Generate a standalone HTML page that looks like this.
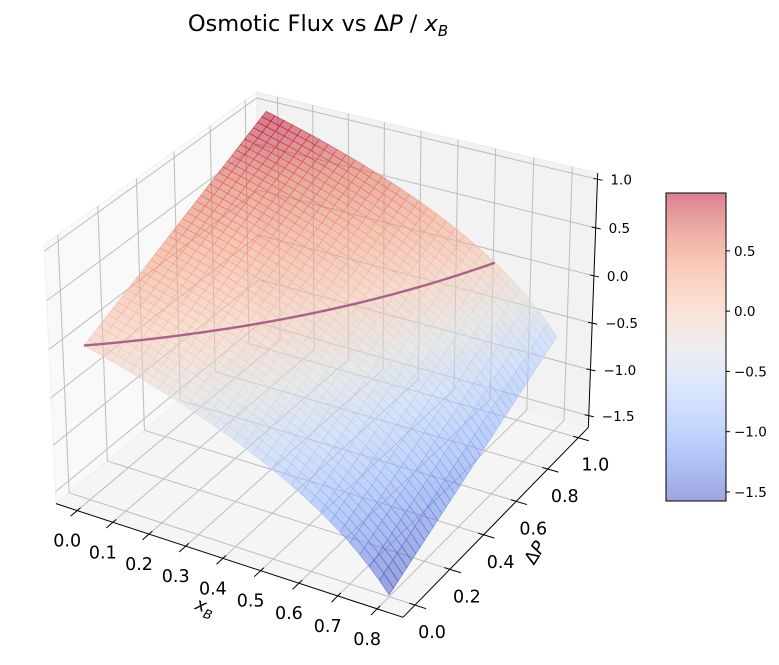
<!DOCTYPE html>
<html><head><meta charset="utf-8">
<style>
html,body{margin:0;padding:0;background:#fff;}
svg{display:block;font-family:"DejaVu Sans","Liberation Sans",sans-serif;}
</style></head>
<body>
<svg id="chart" width="779" height="665" viewBox="0 0 779 665" xmlns="http://www.w3.org/2000/svg">
<text x="318" y="31" text-anchor="middle" font-size="22.5" fill="#000">Osmotic Flux vs Δ<tspan font-style="italic">P</tspan> / <tspan font-style="italic">x</tspan><tspan font-style="italic" font-size="15" dy="5">B</tspan></text>
</svg>
<script>
// ---- data ----
const xValues = [0,0.025,0.05,0.075,0.1,0.125,0.15,0.175,0.2,0.225,0.25,0.275,0.3,0.325,0.35,0.375,0.4,0.425,0.45,0.475,0.5,0.525,0.55,0.575,0.6,0.625,0.65,0.675,0.7,0.725,0.75,0.775,0.8];
const osmoticValues = [0,0.0253,0.0513,0.0780,0.1054,0.1335,0.1625,0.1924,0.2231,0.2549,0.2877,0.3216,0.3567,0.3930,0.4308,0.4700,0.5108,0.5534,0.5978,0.6444,0.6931,0.7444,0.7985,0.8557,0.9163,0.9808,1.0498,1.1239,1.2040,1.2910,1.3863,1.4917,1.6094];
const pValues = [0,0.025,0.05,0.075,0.1,0.125,0.15,0.175,0.2,0.225,0.25,0.275,0.3,0.325,0.35,0.375,0.4,0.425,0.45,0.475,0.5,0.525,0.55,0.575,0.6,0.625,0.65,0.675,0.7,0.725,0.75,0.775,0.8,0.825,0.85,0.875,0.9,0.925,0.95,0.975,1];
const xTicks = [0,0.1,0.2,0.3,0.4,0.5,0.6,0.7,0.8];
const xTickLabels = ["0.0","0.1","0.2","0.3","0.4","0.5","0.6","0.7","0.8"];
const pTicks = [0,0.2,0.4,0.6,0.8,1.0];
const pTickLabels = ["0.0","0.2","0.4","0.6","0.8","1.0"];
const zTicks = [-1.5,-1.0,-0.5,0,0.5,1.0];
const zTickLabels = ["\u22121.5","\u22121.0","\u22120.5","0.0","0.5","1.0"];
const cbTicks = [-1.5,-1.0,-0.5,0,0.5];
const cbTickLabels = ["\u22121.5","\u22121.0","\u22120.5","0.0","0.5"];
const colorMin = -1.575, colorMax = 0.98;

// ---- axis limits & view ----
const X0=-0.06,X1=0.865,Y0=-0.067,Y1=1.067,Z0=-1.628,Z1=1.064;
const el=30*Math.PI/180, az=-60*Math.PI/180;
const R=[2,2,1.5];
const w=[Math.cos(el)*Math.cos(az),Math.cos(el)*Math.sin(az),Math.sin(el)];
const eye=[R[0]+10*w[0],R[1]+10*w[1],R[2]+10*w[2]];
function box(x,y,z){return [(x-X0)/(X1-X0)*4,(y-Y0)/(Y1-Y0)*4,(z-Z0)/(Z1-Z0)*3];}
function depth(x,y,z){const b=box(x,y,z);return (b[0]-eye[0])*w[0]+(b[1]-eye[1])*w[1]+(b[2]-eye[2])*w[2];}

// calibrate a projective camera (DLT) from axis-box reference points
const anchors=[
 [[X0,Y1,Z1],[257,92]],[[X0,Y0,Z1],[44,245]],[[X1,Y1,Z1],[598,173]],
 [[X1,Y1,Z0],[586,427]],[[X1,Y0,Z0],[403,615]],[[X0,Y0,Z0],[56,502]],
 [[X1,Y1,1.0],[597,179]],[[X1,Y1,-1.5],[589,415]],
 [[0,Y0,Z0],[77,511]],[[0.4,Y0,Z0],[223,560]],[[0.8,Y0,Z0],[377,610]],
 [[X1,1.0,Z0],[580,439]],[[X1,0.6,Z0],[517,502]]];
let Pm;
(function(){
  const rows=[],rhs=[];
  anchors.forEach(([d,s])=>{const b=box(...d),uu=s[0],vv=s[1];
    rows.push([b[0],b[1],b[2],1,0,0,0,0,-uu*b[0],-uu*b[1],-uu*b[2]]);rhs.push(uu);
    rows.push([0,0,0,0,b[0],b[1],b[2],1,-vv*b[0],-vv*b[1],-vv*b[2]]);rhs.push(vv);});
  const n=11,A=[],B=[];
  for(let i=0;i<n;i++){A.push(new Array(n).fill(0));B.push(0);}
  rows.forEach((r,k)=>{for(let i=0;i<n;i++){for(let j=0;j<n;j++)A[i][j]+=r[i]*r[j];B[i]+=r[i]*rhs[k];}});
  for(let c=0;c<n;c++){let p=c;for(let r=c+1;r<n;r++)if(Math.abs(A[r][c])>Math.abs(A[p][c]))p=r;
    [A[c],A[p]]=[A[p],A[c]];[B[c],B[p]]=[B[p],B[c]];
    for(let r=0;r<n;r++){if(r===c)continue;const f=A[r][c]/A[c][c];for(let j=c;j<n;j++)A[r][j]-=f*A[c][j];B[r]-=f*B[c];}}
  Pm=B.map((b,i)=>b/A[i][i]);
})();
function proj(x,y,z){const b=box(x,y,z);const den=Pm[8]*b[0]+Pm[9]*b[1]+Pm[10]*b[2]+1;
  return [(Pm[0]*b[0]+Pm[1]*b[1]+Pm[2]*b[2]+Pm[3])/den,(Pm[4]*b[0]+Pm[5]*b[1]+Pm[6]*b[2]+Pm[7])/den,depth(x,y,z)];}

// ---- colormap (coolwarm) ----
const cw=[[0,59,76,192],[0.125,98,130,234],[0.25,141,176,254],[0.375,184,208,249],[0.5,221,221,221],[0.625,245,196,173],[0.75,244,154,123],[0.875,222,96,76],[1,180,4,38]];
function coolwarm(t){t=Math.max(0,Math.min(1,t));
  for(let i=1;i<cw.length;i++){if(t<=cw[i][0]){const a=cw[i-1],b=cw[i],f=(t-a[0])/(b[0]-a[0]);
    return [0,1,2].map(k=>Math.round(a[k+1]+(b[k+1]-a[k+1])*f));}}
  return [180,4,38];}

const svg=document.getElementById('chart');
const NS='http://www.w3.org/2000/svg';
function mk(tag,attrs,parent){const e=document.createElementNS(NS,tag);for(const k in attrs)e.setAttribute(k,attrs[k]);(parent||svg).appendChild(e);return e;}
function pts(arr){return arr.map(p=>p[0].toFixed(2)+','+p[1].toFixed(2)).join(' ');}

// ---- panes ----
const paneX=mk('polygon',{points:pts([proj(X0,Y0,Z0),proj(X0,Y1,Z0),proj(X0,Y1,Z1),proj(X0,Y0,Z1)]),fill:'#f9f9f9',stroke:'#f0f0f0'});


const paneY=mk('polygon',{points:pts([proj(X0,Y1,Z0),proj(X1,Y1,Z0),proj(X1,Y1,Z1),proj(X0,Y1,Z1)]),fill:'#f2f2f2',stroke:'#ebebeb'});


const paneZ=mk('polygon',{points:pts([proj(X0,Y0,Z0),proj(X1,Y0,Z0),proj(X1,Y1,Z0),proj(X0,Y1,Z0)]),fill:'#f5f5f5',stroke:'#eeeeee'});



// ---- gridlines ----
const grid=mk('g',{stroke:'#bdbdbd','stroke-width':1,fill:'none'});


function gl(a,b){const l=mk('line',{x1:a[0],y1:a[1],x2:b[0],y2:b[1]},grid);

}
xTicks.forEach(x=>{gl(proj(x,Y1,Z0),proj(x,Y1,Z1));gl(proj(x,Y0,Z0),proj(x,Y1,Z0));});
pTicks.forEach(p=>{gl(proj(X0,p,Z0),proj(X0,p,Z1));gl(proj(X0,p,Z0),proj(X1,p,Z0));});
zTicks.forEach(z=>{gl(proj(X0,Y0,z),proj(X0,Y1,z));gl(proj(X0,Y1,z),proj(X1,Y1,z));});

// ---- surface ----
const surf=mk('g',{});


const quads=[];
for(let i=0;i<xValues.length-1;i++){for(let j=0;j<pValues.length-1;j++){
  const c=[[i,j],[i+1,j],[i+1,j+1],[i,j+1]].map(([a,b])=>{const f=pValues[b]-osmoticValues[a];return {p:proj(xValues[a],pValues[b],f),f};});
  const fav=c.reduce((s,q)=>s+q.f,0)/4;
  const dep=c.reduce((s,q)=>s+q.p[2],0)/4;
  quads.push({c,fav,dep});
}}
quads.sort((a,b)=>a.dep-b.dep);
quads.forEach(q=>{
  const col=coolwarm((q.fav-colorMin)/(colorMax-colorMin));
  const rgb='rgb('+col.join(',')+')';
  const poly=mk('polygon',{points:pts(q.c.map(k=>k.p)),fill:rgb,'fill-opacity':0.5,stroke:rgb,'stroke-opacity':0.65,'stroke-width':0.7},surf);
  
  
});

// ---- zero flux curve ----
const curvePts=[];
for(let i=0;i<xValues.length;i++){
  if(osmoticValues[i]<=1){curvePts.push(proj(xValues[i],osmoticValues[i],0));}
  else{const a=i-1,f=(1-osmoticValues[a])/(osmoticValues[i]-osmoticValues[a]);
    curvePts.push(proj(xValues[a]+(xValues[i]-xValues[a])*f,1,0));break;}
}
const curve=mk('polyline',{points:pts(curvePts),fill:'none',stroke:'#a2557f','stroke-width':2.4,'stroke-opacity':0.9});



// ---- axes ----
const axes=mk('g',{stroke:'#000','stroke-width':1,fill:'none'});


function al(a,b,name){const l=mk('line',{x1:a[0],y1:a[1],x2:b[0],y2:b[1]},axes);

}
al(proj(X0,Y0,Z0),proj(X1,Y0,Z0),'x-axis-line');
al(proj(X1,Y0,Z0),proj(X1,Y1,Z0),'p-axis-line');
al(proj(X1,Y1,Z0),proj(X1,Y1,Z1),'z-axis-line');

const labels=mk('g',{fill:'#000'});


xTicks.forEach((x,i)=>{
  const a=proj(x,Y0,Z0),b=proj(x,Y0-0.03*(Y1-Y0),Z0),c=proj(x,Y0+0.015*(Y1-Y0),Z0);
  al(c,b,'x-tick');
  const t=mk('text',{x:a[0]-10,y:a[1]+36,'text-anchor':'middle','font-size':17.5},labels);
  t.textContent=xTickLabels[i];
  
  
});
pTicks.forEach((p,i)=>{
  const a=proj(X1,p,Z0),b=proj(X1+0.03*(X1-X0),p,Z0),c=proj(X1-0.015*(X1-X0),p,Z0);
  al(c,b,'p-tick');
  const t=mk('text',{x:a[0]+17,y:a[1]+33,'text-anchor':'middle','font-size':17.5},labels);
  t.textContent=pTickLabels[i];
  
  
});
zTicks.forEach((z,i)=>{
  const a=proj(X1,Y1,z);
  al([a[0]-4,a[1]-1],[a[0]+5,a[1]+1],'z-tick');
  const t=mk('text',{x:a[0]+13,y:a[1]+5,'font-size':13.5},labels);
  t.textContent=zTickLabels[i];
  
  
});
// axis titles
const xt=mk('text',{x:0,y:0,'font-size':18,'text-anchor':'middle',transform:'translate(203,612) rotate(20)'});
xt.innerHTML='<tspan font-style="italic">x</tspan><tspan font-style="italic" font-size="12.5" dy="5">B</tspan>';


const pt=mk('text',{x:0,y:0,'font-size':18,'text-anchor':'middle',transform:'translate(540,556) rotate(-58)'});
pt.innerHTML='Δ<tspan font-style="italic">P</tspan>';



// ---- colorbar ----
const CBX=666,CBW=60,CBT=193,CBB=501;
function cbY(val){return CBB-(val-colorMin)/(colorMax-colorMin)*(CBB-CBT);}
const defs=mk('defs',{});
const lg=mk('linearGradient',{id:'cbg',x1:0,y1:1,x2:0,y2:0},defs);
for(let k=0;k<=20;k++){const c=coolwarm(k/20);mk('stop',{offset:k/20,'stop-color':'rgb('+c.join(',')+')','stop-opacity':0.5},lg);}
const cb=mk('rect',{x:CBX,y:CBT,width:CBW,height:CBB-CBT,fill:'url(#cbg)',stroke:'#000','stroke-width':1});


cbTicks.forEach((val,i)=>{
  const y=cbY(val);
  const l=mk('line',{x1:CBX+CBW,y1:y,x2:CBX+CBW+4,y2:y,stroke:'#000','stroke-width':1});
  
  
  const t=mk('text',{x:CBX+CBW+8,y:y+5,'font-size':13.5,fill:'#000'});
  t.textContent=cbTickLabels[i];
  
  
});
</script>
</body></html>
